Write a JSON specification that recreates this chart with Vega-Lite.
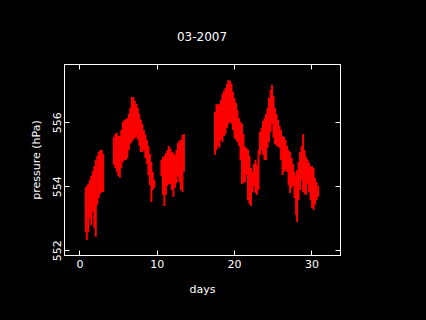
{
  "$schema": "https://vega.github.io/schema/vega-lite/v6.json",
  "width": 276,
  "height": 191,
  "autosize": "none",
  "padding": {"left": 64, "top": 64, "right": 86, "bottom": 65},
  "background": "black",
  "title": {"text": "03-2007", "color": "white", "font": "DejaVu Sans", "fontSize": 12, "fontWeight": "normal", "offset": 20},
  "config": {
    "view": {"stroke": "white", "strokeWidth": 1},
    "axis": {"grid": false, "domainColor": "white", "tickColor": "white", "labelColor": "white", "titleColor": "white",
      "labelFont": "DejaVu Sans", "titleFont": "DejaVu Sans", "labelFontSize": 11, "titleFontSize": 11, "titleFontWeight": "normal", "tickSize": -5}
  },
  "data": {"values": [
    {"d": 0.82, "lo": 552.57, "hi": 553.95},
    {"d": 0.95, "lo": 552.32, "hi": 554.01},
    {"d": 1.14, "lo": 552.57, "hi": 554.07},
    {"d": 1.33, "lo": 553.01, "hi": 554.20},
    {"d": 1.53, "lo": 552.79, "hi": 554.32},
    {"d": 1.72, "lo": 553.20, "hi": 554.48},
    {"d": 1.92, "lo": 552.70, "hi": 554.63},
    {"d": 2.11, "lo": 552.42, "hi": 554.82},
    {"d": 2.31, "lo": 553.42, "hi": 554.95},
    {"d": 2.50, "lo": 553.63, "hi": 555.07},
    {"d": 2.69, "lo": 553.76, "hi": 555.13},
    {"d": 2.89, "lo": 553.82, "hi": 555.13},
    {"d": 3.08, "lo": 553.82, "hi": 555.01},
    {"d": 4.44, "lo": 554.67, "hi": 555.54},
    {"d": 4.64, "lo": 554.57, "hi": 555.63},
    {"d": 4.83, "lo": 554.45, "hi": 555.67},
    {"d": 5.03, "lo": 554.32, "hi": 555.57},
    {"d": 5.22, "lo": 554.26, "hi": 555.57},
    {"d": 5.41, "lo": 554.57, "hi": 555.76},
    {"d": 5.61, "lo": 554.76, "hi": 556.01},
    {"d": 5.80, "lo": 554.82, "hi": 556.07},
    {"d": 6.00, "lo": 554.82, "hi": 556.10},
    {"d": 6.19, "lo": 554.88, "hi": 556.13},
    {"d": 6.39, "lo": 555.13, "hi": 556.26},
    {"d": 6.58, "lo": 555.32, "hi": 556.45},
    {"d": 6.77, "lo": 555.38, "hi": 556.79},
    {"d": 6.97, "lo": 555.45, "hi": 556.79},
    {"d": 7.16, "lo": 555.51, "hi": 556.67},
    {"d": 7.36, "lo": 555.54, "hi": 556.57},
    {"d": 7.55, "lo": 555.45, "hi": 556.45},
    {"d": 7.75, "lo": 555.26, "hi": 556.26},
    {"d": 7.94, "lo": 555.07, "hi": 556.07},
    {"d": 8.13, "lo": 555.07, "hi": 555.95},
    {"d": 8.33, "lo": 555.13, "hi": 555.76},
    {"d": 8.52, "lo": 554.88, "hi": 555.63},
    {"d": 8.72, "lo": 554.70, "hi": 555.45},
    {"d": 8.91, "lo": 554.35, "hi": 555.26},
    {"d": 9.11, "lo": 554.04, "hi": 555.01},
    {"d": 9.30, "lo": 553.51, "hi": 554.76},
    {"d": 9.49, "lo": 553.88, "hi": 554.45},
    {"d": 9.69, "lo": 553.95, "hi": 554.20},
    {"d": 10.60, "lo": 554.32, "hi": 554.82},
    {"d": 10.79, "lo": 553.73, "hi": 554.92},
    {"d": 10.98, "lo": 553.38, "hi": 554.95},
    {"d": 11.18, "lo": 553.73, "hi": 555.04},
    {"d": 11.37, "lo": 554.01, "hi": 555.13},
    {"d": 11.57, "lo": 554.07, "hi": 555.26},
    {"d": 11.76, "lo": 554.07, "hi": 555.17},
    {"d": 11.96, "lo": 553.88, "hi": 555.07},
    {"d": 12.15, "lo": 553.67, "hi": 555.04},
    {"d": 12.34, "lo": 553.95, "hi": 554.98},
    {"d": 12.54, "lo": 554.10, "hi": 555.13},
    {"d": 12.73, "lo": 554.32, "hi": 555.35},
    {"d": 12.93, "lo": 554.13, "hi": 555.42},
    {"d": 13.12, "lo": 553.88, "hi": 555.45},
    {"d": 13.32, "lo": 553.82, "hi": 555.60},
    {"d": 13.51, "lo": 554.45, "hi": 555.63},
    {"d": 17.53, "lo": 554.98, "hi": 556.32},
    {"d": 17.72, "lo": 555.13, "hi": 556.57},
    {"d": 17.91, "lo": 555.26, "hi": 556.54},
    {"d": 18.11, "lo": 555.20, "hi": 556.57},
    {"d": 18.30, "lo": 555.45, "hi": 556.70},
    {"d": 18.50, "lo": 555.38, "hi": 556.88},
    {"d": 18.69, "lo": 555.57, "hi": 556.98},
    {"d": 18.89, "lo": 555.63, "hi": 557.07},
    {"d": 19.08, "lo": 555.82, "hi": 557.20},
    {"d": 19.27, "lo": 555.95, "hi": 557.32},
    {"d": 19.47, "lo": 556.01, "hi": 557.29},
    {"d": 19.66, "lo": 555.95, "hi": 557.20},
    {"d": 19.86, "lo": 555.76, "hi": 556.95},
    {"d": 20.05, "lo": 555.51, "hi": 556.76},
    {"d": 20.25, "lo": 555.45, "hi": 556.60},
    {"d": 20.44, "lo": 555.38, "hi": 556.38},
    {"d": 20.63, "lo": 555.26, "hi": 556.13},
    {"d": 20.83, "lo": 554.82, "hi": 556.01},
    {"d": 21.02, "lo": 554.07, "hi": 555.95},
    {"d": 21.22, "lo": 554.10, "hi": 555.63},
    {"d": 21.41, "lo": 554.13, "hi": 555.23},
    {"d": 21.61, "lo": 554.35, "hi": 555.20},
    {"d": 21.80, "lo": 553.57, "hi": 555.13},
    {"d": 21.99, "lo": 553.45, "hi": 554.95},
    {"d": 22.19, "lo": 553.38, "hi": 554.57},
    {"d": 22.38, "lo": 553.82, "hi": 554.45},
    {"d": 22.58, "lo": 554.01, "hi": 554.70},
    {"d": 22.77, "lo": 553.79, "hi": 554.82},
    {"d": 22.97, "lo": 553.73, "hi": 554.67},
    {"d": 23.16, "lo": 553.88, "hi": 555.13},
    {"d": 23.35, "lo": 554.98, "hi": 555.70},
    {"d": 23.55, "lo": 555.13, "hi": 555.82},
    {"d": 23.74, "lo": 554.98, "hi": 556.04},
    {"d": 23.94, "lo": 554.82, "hi": 556.13},
    {"d": 24.13, "lo": 554.82, "hi": 556.26},
    {"d": 24.33, "lo": 555.20, "hi": 556.45},
    {"d": 24.52, "lo": 555.38, "hi": 556.76},
    {"d": 24.72, "lo": 555.70, "hi": 557.01},
    {"d": 24.91, "lo": 555.95, "hi": 557.17},
    {"d": 25.10, "lo": 555.51, "hi": 556.82},
    {"d": 25.30, "lo": 555.32, "hi": 556.45},
    {"d": 25.49, "lo": 555.26, "hi": 556.26},
    {"d": 25.69, "lo": 555.23, "hi": 556.07},
    {"d": 25.88, "lo": 555.20, "hi": 555.88},
    {"d": 26.08, "lo": 554.82, "hi": 555.76},
    {"d": 26.27, "lo": 554.35, "hi": 555.57},
    {"d": 26.46, "lo": 554.45, "hi": 555.54},
    {"d": 26.66, "lo": 554.51, "hi": 555.45},
    {"d": 26.85, "lo": 554.45, "hi": 555.26},
    {"d": 27.05, "lo": 554.04, "hi": 555.13},
    {"d": 27.24, "lo": 553.79, "hi": 555.07},
    {"d": 27.44, "lo": 553.95, "hi": 554.88},
    {"d": 27.63, "lo": 554.01, "hi": 554.70},
    {"d": 27.82, "lo": 553.63, "hi": 554.45},
    {"d": 28.02, "lo": 553.10, "hi": 554.32},
    {"d": 28.15, "lo": 552.88, "hi": 554.51},
    {"d": 28.34, "lo": 553.57, "hi": 554.76},
    {"d": 28.54, "lo": 553.88, "hi": 555.07},
    {"d": 28.73, "lo": 554.20, "hi": 555.26},
    {"d": 28.93, "lo": 553.82, "hi": 555.63},
    {"d": 29.12, "lo": 553.76, "hi": 555.13},
    {"d": 29.31, "lo": 553.73, "hi": 554.92},
    {"d": 29.51, "lo": 554.07, "hi": 554.82},
    {"d": 29.70, "lo": 553.82, "hi": 554.73},
    {"d": 29.90, "lo": 553.57, "hi": 554.63},
    {"d": 30.09, "lo": 553.32, "hi": 554.63},
    {"d": 30.28, "lo": 553.26, "hi": 554.57},
    {"d": 30.48, "lo": 553.42, "hi": 554.26},
    {"d": 30.67, "lo": 553.57, "hi": 554.13},
    {"d": 30.87, "lo": 553.67, "hi": 554.01}
  ]},
  "layer": [
    {
      "mark": {"type": "rule", "color": "#ff0000", "strokeWidth": 2},
      "encoding": {
        "x": {"field": "d", "type": "quantitative", "scale": {"domain": [-2, 33.7], "nice": false, "zero": false},
          "axis": {"title": "days", "values": [0, 10, 20, 30], "labelPadding": 8, "titlePadding": 14, "labelFlush": false}},
        "y": {"field": "lo", "type": "quantitative", "scale": {"domain": [551.85, 557.82], "nice": false, "zero": false},
          "axis": {"title": "pressure (hPa)", "values": [552, 554, 556], "labelAngle": 270, "labelPadding": 7, "titlePadding": 10, "labelFlush": false}},
        "y2": {"field": "hi"}
      }
    },
    {
      "mark": {"type": "rule", "opacity": 0},
      "encoding": {
        "x": {"field": "d", "type": "quantitative", "axis": {"orient": "top", "values": [0, 10, 20, 30], "labels": false, "title": null}},
        "y": {"field": "lo", "type": "quantitative", "axis": {"orient": "right", "values": [552, 554, 556], "labels": false, "title": null}},
        "y2": {"field": "hi"}
      }
    }
  ],
  "resolve": {"axis": {"x": "independent", "y": "independent"}}
}
